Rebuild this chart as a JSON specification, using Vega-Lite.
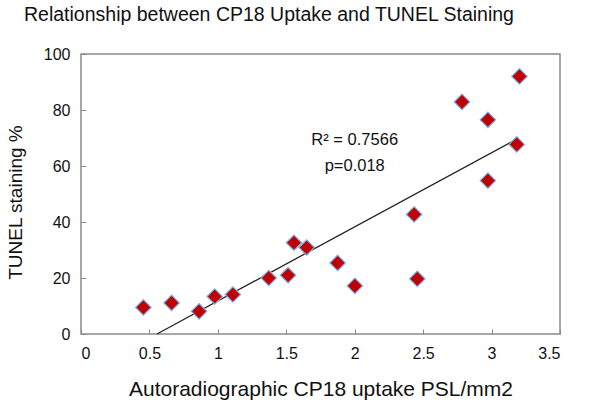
{
  "$schema": "https://vega.github.io/schema/vega-lite/v6.json",
  "autosize": "none",
  "width": 479,
  "height": 280,
  "padding": {"left": 81, "top": 54, "right": 41, "bottom": 70},
  "background": "white",
  "config": {
    "font": "Liberation Sans",
    "view": {"stroke": "#8a8a8a", "strokeWidth": 1.5},
    "axis": {"grid": false, "domain": false, "labelColor": "#111", "titleColor": "#111", "tickColor": "#8a8a8a", "labelFont": "Liberation Sans", "titleFont": "Liberation Sans", "titleFontWeight": "normal"}
  },
  "title": {
    "text": "Relationship between CP18 Uptake and TUNEL Staining",
    "font": "Liberation Sans",
    "fontSize": 19.5,
    "fontWeight": "normal",
    "color": "#111",
    "anchor": "start",
    "frame": "group",
    "dx": -57,
    "offset": 21
  },
  "datasets": {
    "points": [
      {"x": 0.456, "y": 9.5},
      {"x": 0.662, "y": 11.1},
      {"x": 0.863, "y": 8.1},
      {"x": 0.977, "y": 13.4},
      {"x": 1.11, "y": 14.1},
      {"x": 1.372, "y": 20.0},
      {"x": 1.513, "y": 21.0},
      {"x": 1.556, "y": 32.6},
      {"x": 1.649, "y": 30.9},
      {"x": 1.875, "y": 25.4},
      {"x": 2.001, "y": 17.2},
      {"x": 2.434, "y": 42.7},
      {"x": 2.457, "y": 19.7},
      {"x": 2.784, "y": 82.9},
      {"x": 2.973, "y": 76.5},
      {"x": 2.973, "y": 54.8},
      {"x": 3.184, "y": 67.7},
      {"x": 3.204, "y": 92.0}
    ],
    "trend": [
      {"x": 0.555, "y": 0},
      {"x": 3.19, "y": 69.8}
    ],
    "labels": [
      {"x": 2.0, "y": 69.2, "t": "R² = 0.7566"},
      {"x": 2.0, "y": 60.0, "t": "p=0.018"}
    ]
  },
  "layer": [
    {
      "data": {"name": "trend"},
      "mark": {"type": "line", "color": "#222", "strokeWidth": 1.3},
      "encoding": {
        "x": {
          "field": "x", "type": "quantitative",
          "scale": {"domain": [0, 3.5], "nice": false},
          "axis": {
            "values": [0, 0.5, 1, 1.5, 2, 2.5, 3, 3.5],
            "labelExpr": "datum.value == 0 ? '0' : format(datum.value, '~g')",
            "labelFontSize": 16,
            "tickSize": -5,
            "labelPadding": 16,
            "title": "Autoradiographic CP18 uptake PSL/mm2",
            "titleFontSize": 21,
            "titleY": 55,
            "titleBaseline": "middle"
          }
        },
        "y": {
          "field": "y", "type": "quantitative",
          "scale": {"domain": [0, 100], "nice": false},
          "axis": {
            "values": [0, 20, 40, 60, 80, 100],
            "labelFontSize": 16,
            "tickSize": -5,
            "labelPadding": 16,
            "title": "TUNEL staining %",
            "titleFontSize": 19,
            "titleX": -66,
            "titleY": 148,
            "titleAngle": -90,
            "titleAlign": "center",
            "titleBaseline": "middle"
          }
        }
      }
    },
    {
      "data": {"name": "points"},
      "mark": {"type": "point", "shape": "diamond", "filled": true, "size": 240, "color": "#c00000", "stroke": "#7ab0e8", "strokeWidth": 1.2, "opacity": 1},
      "encoding": {
        "x": {"field": "x", "type": "quantitative"},
        "y": {"field": "y", "type": "quantitative"}
      }
    },
    {
      "data": {"name": "labels"},
      "mark": {"type": "text", "fontSize": 16.5, "color": "#111", "font": "Liberation Sans", "align": "center", "baseline": "middle"},
      "encoding": {
        "x": {"field": "x", "type": "quantitative"},
        "y": {"field": "y", "type": "quantitative"},
        "text": {"field": "t"}
      }
    }
  ]
}
